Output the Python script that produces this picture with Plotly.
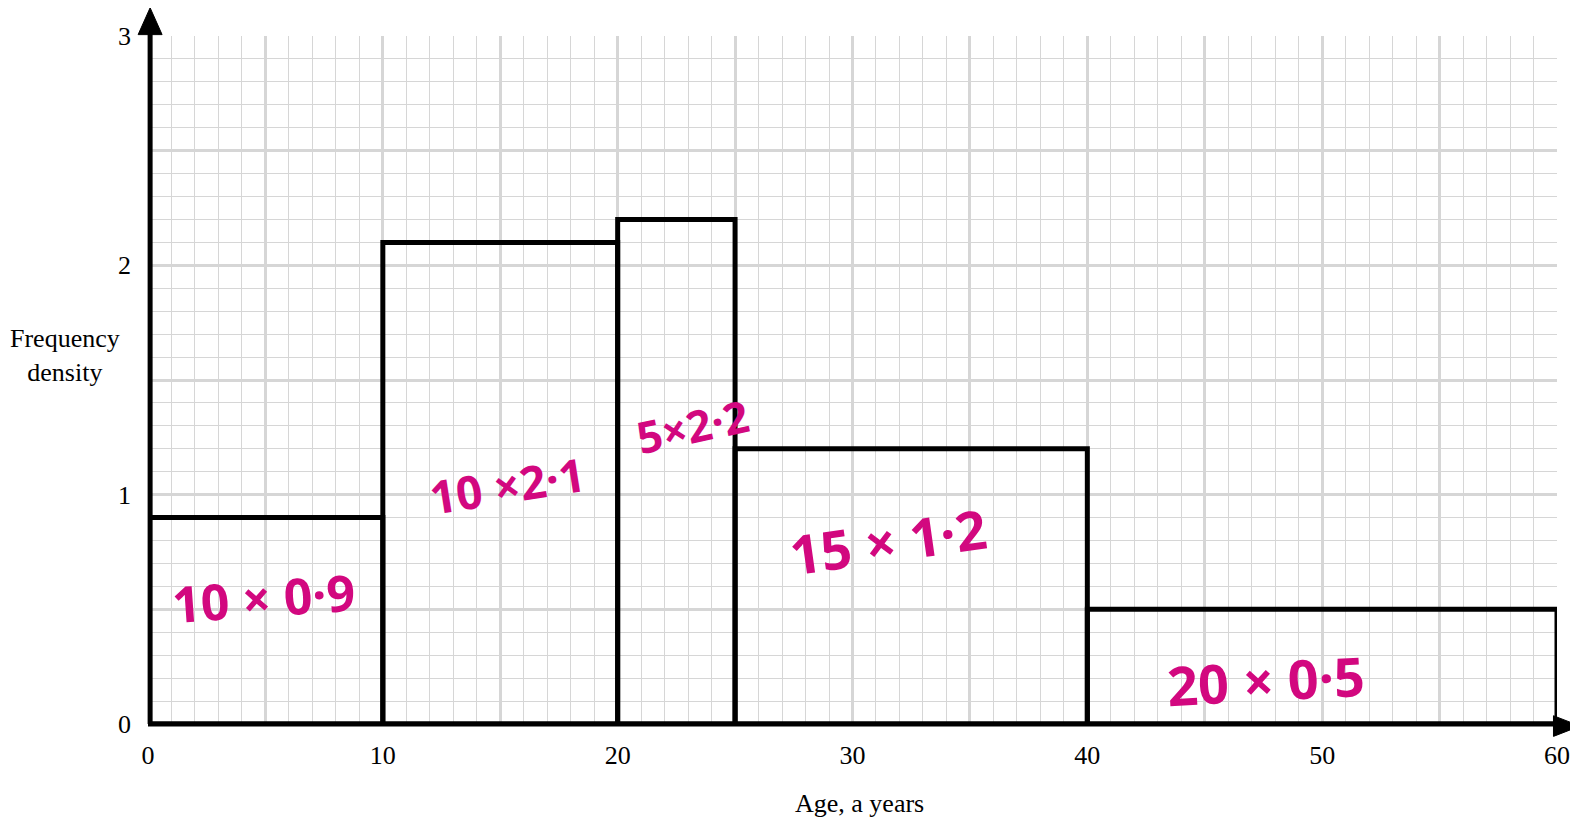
import plotly.graph_objects as go

# ---- data ----
bin_edges = [0, 10, 20, 25, 40, 60]
freq_density = [0.9, 2.1, 2.2, 1.2, 0.5]
calc_labels = ["10 × 0·9", "10 ×2·1", "5×2·2", "15 × 1·2", "20 × 0·5"]
x_tick_vals = [0, 5, 10, 15, 20, 25, 30, 35, 40, 45, 50, 55, 60]
x_tick_text = ["0", "", "10", "", "20", "", "30", "", "40", "", "50", "", "60"]
y_tick_vals = [0, 0.5, 1, 1.5, 2, 2.5, 3]
y_tick_text = ["0", "", "1", "", "2", "", "3"]

widths = [b - a for a, b in zip(bin_edges[:-1], bin_edges[1:])]
mids = [(a + b) / 2 for a, b in zip(bin_edges[:-1], bin_edges[1:])]

GRID = "#d6d6d6"
PINK = "#d2087f"
SERIF = "Liberation Serif, Times New Roman, serif"

fig = go.Figure()
fig.add_trace(go.Bar(
    x=mids, y=freq_density, width=widths,
    marker=dict(color="rgba(0,0,0,0)", line=dict(color="black", width=5)),
    cliponaxis=False, hoverinfo="skip", showlegend=False,
))

# handwritten-style calculations: (x, y, angle, size)
label_style = [(4.9, 0.55, -4, 50), (15.3, 1.04, -9, 46), (23.2, 1.30, -12, 44),
               (31.5, 0.80, -8, 54), (47.6, 0.19, -3, 54)]
for txt, (lx, ly, rot, sz) in zip(calc_labels, label_style):
    fig.add_annotation(x=lx, y=ly, xref="x", yref="y", text=txt, showarrow=False,
                       textangle=rot, xanchor="center", yanchor="middle",
                       font=dict(family="Noto Sans, sans-serif", size=sz, color=PINK,
                                 weight="bold"))

# axis titles
fig.add_annotation(x=-0.059, y=0.535, xref="paper", yref="paper", showarrow=False,
                   xanchor="center", yanchor="middle",
                   text="Frequency<br>density", align="center",
                   font=dict(family=SERIF, size=26, color="black"))
fig.add_annotation(x=0.505, y=-0.116, xref="paper", yref="paper", showarrow=False,
                   xanchor="center", yanchor="middle",
                   text="Age, a years", font=dict(family=SERIF, size=26, color="black"))

# axes with arrowheads
shapes = [
    dict(type="line", xref="paper", yref="paper", x0=0.0015, y0=0, x1=0.0015, y1=1.01,
         line=dict(color="black", width=5)),
    dict(type="line", xref="paper", yref="paper", x0=0, y0=0, x1=1.0, y1=0,
         line=dict(color="black", width=5)),
    dict(type="path", xref="paper", yref="paper",
         path="M 0.0015,1.041 L -0.0070,1.002 L 0.0100,1.002 Z",
         fillcolor="black", line=dict(color="black", width=1)),
    dict(type="path", xref="paper", yref="paper",
         path="M 1.0164,-0.003 L 0.9975,0.012 L 0.9975,-0.018 Z",
         fillcolor="black", line=dict(color="black", width=1)),
]

# the page body has an 8px margin, so the figure is offset by (8, 8)
fig.update_layout(
    width=1570, height=810,
    margin=dict(l=140, r=21, t=28, b=94),
    paper_bgcolor="white", plot_bgcolor="white",
    shapes=shapes,
    xaxis=dict(range=[0, 60], tickmode="array", tickvals=x_tick_vals, ticktext=x_tick_text,
               showgrid=True, gridcolor=GRID, gridwidth=3, zeroline=False, showline=False,
               ticks="", ticklabelstandoff=13, automargin=False,
               tickfont=dict(family=SERIF, size=26, color="black"),
               minor=dict(tickmode="linear", tick0=0, dtick=1, showgrid=True,
                          gridcolor=GRID, gridwidth=1.2)),
    yaxis=dict(range=[0, 3], tickmode="array", tickvals=y_tick_vals, ticktext=y_tick_text,
               showgrid=True, gridcolor=GRID, gridwidth=3, zeroline=False, showline=False,
               ticks="", ticklabelstandoff=16, automargin=False,
               tickfont=dict(family=SERIF, size=26, color="black"),
               minor=dict(tickmode="linear", tick0=0, dtick=0.1, showgrid=True,
                          gridcolor=GRID, gridwidth=1.2)),
)

fig.write_html("out.html")
